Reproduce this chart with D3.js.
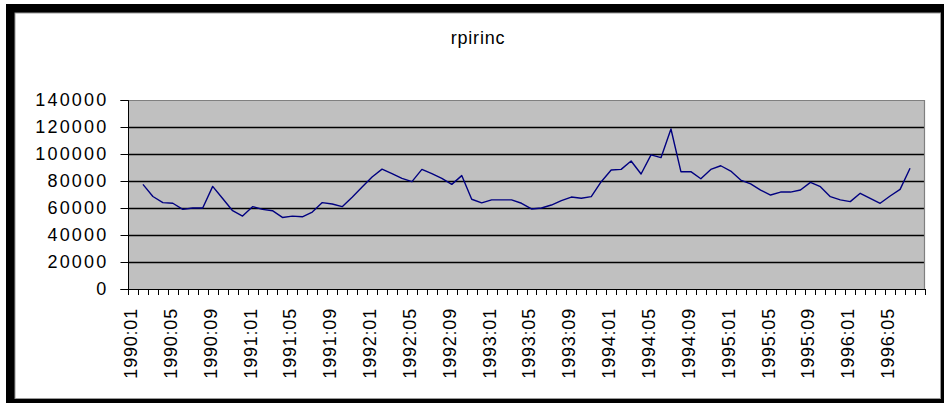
<!DOCTYPE html>
<html>
<head>
<meta charset="utf-8">
<script src="https://cdn.jsdelivr.net/npm/d3@7"></script>
<style>
  html, body { margin: 0; padding: 0; background: #fff; }
  svg { display: block; }
  text { font-family: "Liberation Sans", Arial, sans-serif; fill: #000; }
</style>
</head>
<body>
<svg id="chart" width="944" height="403"></svg>
<script>
// Monthly categories, 1990:01 .. 1996:08
const categories = [
  "1990:01","1990:02","1990:03","1990:04","1990:05","1990:06","1990:07","1990:08","1990:09","1990:10","1990:11","1990:12",
  "1991:01","1991:02","1991:03","1991:04","1991:05","1991:06","1991:07","1991:08","1991:09","1991:10","1991:11","1991:12",
  "1992:01","1992:02","1992:03","1992:04","1992:05","1992:06","1992:07","1992:08","1992:09","1992:10","1992:11","1992:12",
  "1993:01","1993:02","1993:03","1993:04","1993:05","1993:06","1993:07","1993:08","1993:09","1993:10","1993:11","1993:12",
  "1994:01","1994:02","1994:03","1994:04","1994:05","1994:06","1994:07","1994:08","1994:09","1994:10","1994:11","1994:12",
  "1995:01","1995:02","1995:03","1995:04","1995:05","1995:06","1995:07","1995:08","1995:09","1995:10","1995:11","1995:12",
  "1996:01","1996:02","1996:03","1996:04","1996:05","1996:06","1996:07","1996:08"
];

// rpirinc series (null = no observation)
const rpirinc = [
  null, 77500, 68500, 64000, 63500, 59000, 60000, 60000, 76000, 67000, 58000, 54000,
  61000, 59000, 58000, 53000, 54000, 53500, 57000, 64000, 63000, 61000, 68000, 75500,
  83000, 88800, 85500, 82000, 79500, 88600, 85500, 82000, 77500, 84000, 66500, 63800,
  66000, 66000, 66000, 63500, 59300, 60000, 62200, 65400, 68100, 67200, 68400, 79500,
  88100, 88600, 94800, 85200, 99300, 97300, 118500, 86900, 86900, 81700, 88600, 91300,
  87400, 80700, 77800, 73300, 69600, 71800, 71800, 73300, 79000, 75800, 68400, 66000,
  64700, 70900, 67200, 63500, 68900, 73800, 89400, null
];

const yTicks = [0, 20000, 40000, 60000, 80000, 100000, 120000, 140000];
const labelEvery = 4;
const title = "rpirinc";

const svg = d3.select("#chart");

// chart frame: heavy black edge with white chart area
svg.append("rect").attr("x", 6).attr("y", 4).attr("width", 938).attr("height", 399).attr("fill", "#000");
svg.append("rect").attr("x", 15).attr("y", 13).attr("width", 925.5).attr("height", 385.5)
  .attr("fill", "#fff").attr("stroke", "#9a9a9a").attr("stroke-width", 1);

const plot = { left: 128, top: 100, right: 925, bottom: 289 };

const x = d3.scaleBand().domain(categories).range([plot.left, plot.right]).paddingInner(0).paddingOuter(0);
const y = d3.scaleLinear().domain([0, 140000]).range([plot.bottom, plot.top]);

// plot area
svg.append("rect")
  .attr("x", plot.left).attr("y", plot.top)
  .attr("width", plot.right - plot.left).attr("height", plot.bottom - plot.top)
  .attr("fill", "#c0c0c0");

// horizontal gridlines
svg.append("g").selectAll("line")
  .data(yTicks.filter(v => v > 0 && v < 140000))
  .join("line")
  .attr("x1", plot.left).attr("x2", plot.right)
  .attr("y1", d => Math.round(y(d)) + 0.5).attr("y2", d => Math.round(y(d)) + 0.5)
  .attr("stroke", "#000").attr("stroke-width", 1.3);

// plot area border (top and right)
svg.append("path")
  .attr("d", `M${plot.left},${plot.top + 0.5}H${plot.right - 0.5}V${plot.bottom}`)
  .attr("fill", "none").attr("stroke", "#808080").attr("stroke-width", 1.2);

// y axis
const yAxis = d3.axisLeft(y).tickValues(yTicks).tickSize(8).tickPadding(12).tickFormat(d3.format("d"));
const gy = svg.append("g").attr("transform", `translate(${plot.left + 0.5},0)`).call(yAxis);
gy.select(".domain").attr("stroke", "#000").attr("d", `M-8,${plot.top + 0.5}H0V${plot.bottom + 0.5}H-8`);
gy.selectAll(".tick line").attr("stroke", "#000");
gy.selectAll(".tick text")
  .style("font-family", '"Liberation Sans", Arial, sans-serif')
  .style("font-size", "18px")
  .style("letter-spacing", "2.2px")
  .attr("fill", "#000");

// x axis: tick marks on category boundaries
const boundaries = categories.map(c => x(c)).concat([plot.right]);
svg.append("line")
  .attr("x1", plot.left).attr("x2", plot.right)
  .attr("y1", plot.bottom + 0.5).attr("y2", plot.bottom + 0.5)
  .attr("stroke", "#000");
svg.append("g").selectAll("line")
  .data(boundaries)
  .join("line")
  .attr("x1", d => Math.round(d) + 0.5).attr("x2", d => Math.round(d) + 0.5)
  .attr("y1", plot.bottom).attr("y2", plot.bottom + 6)
  .attr("stroke", "#000");

// x labels, rotated, every fourth month
svg.append("g").selectAll("text")
  .data(categories.filter((c, i) => i % labelEvery === 0))
  .join("text")
  .attr("transform", d => `translate(${x(d) + x.bandwidth() / 2 - 2},308) rotate(-90)`)
  .attr("text-anchor", "end")
  .attr("dominant-baseline", "central")
  .style("font-size", "18px")
  .style("letter-spacing", "0.8px")
  .text(d => d);

// series line
const line = d3.line()
  .defined(d => d.v != null)
  .x(d => x(d.c) + x.bandwidth() / 2)
  .y(d => y(d.v));
svg.append("path")
  .datum(categories.map((c, i) => ({ c, v: rpirinc[i] })))
  .attr("d", line)
  .attr("fill", "none")
  .attr("stroke", "#000080")
  .attr("stroke-width", 1.4)
  .attr("stroke-linejoin", "round");

// title
svg.append("text")
  .attr("x", 478).attr("y", 44)
  .attr("text-anchor", "middle")
  .style("font-size", "18px")
  .style("letter-spacing", "0.8px")
  .text(title);
</script>
</body>
</html>
